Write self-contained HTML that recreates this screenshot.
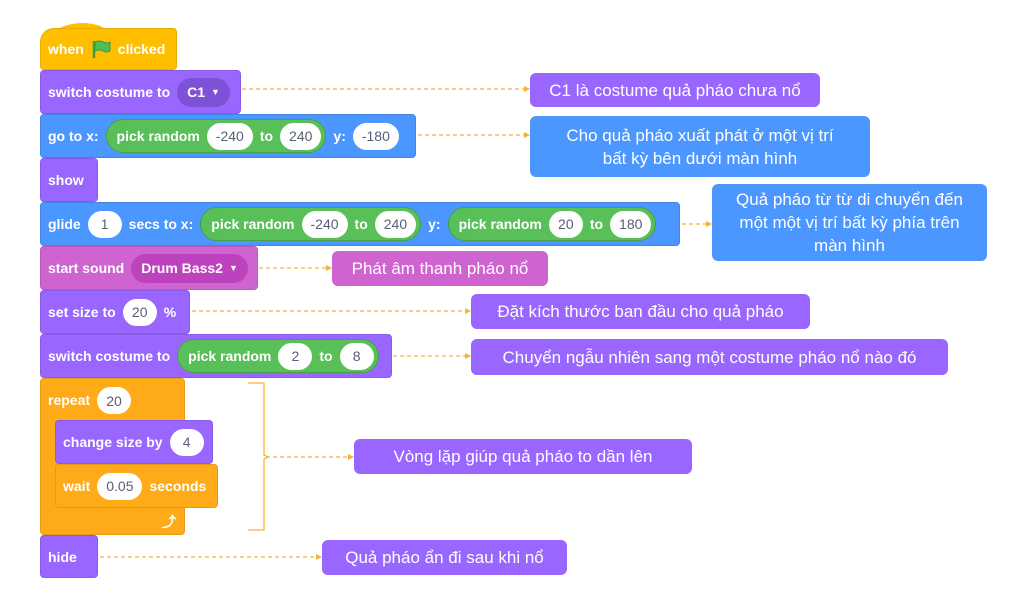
<!DOCTYPE html>
<html><head><meta charset="utf-8">
<style>
*{margin:0;padding:0;box-sizing:border-box}
body{width:1024px;height:596px;background:#fff;position:relative;overflow:hidden;font-family:"Liberation Sans",sans-serif}
.b{position:absolute;height:44px;border-radius:4px;color:#fff;font-size:14px;display:flex;align-items:center;padding-left:7px;gap:7px;white-space:nowrap;font-weight:bold}
.lk{background:#9966FF;border:1px solid #8a5ae6}
.mo{background:#4C97FF;border:1px solid #4485e0}
.so{background:#CF63CF;border:1px solid #bd58bd}
.ev{background:#FFBF00;border:1px solid #e6ac00}
.ct{background:#FFAB19;border:1px solid #e89a17}
.in{background:#fff;color:#575e75;border-radius:14px;height:27px;min-width:34px;padding:0 9px;display:inline-flex;align-items:center;justify-content:center;font-weight:normal}
.op{background:#59C059;border:1px solid #46a046;border-radius:18px;height:34px;display:inline-flex;align-items:center;gap:7px;padding:0 4px 0 10px}
.dd{border-radius:16px;height:29px;display:inline-flex;align-items:center;padding:0 10px;gap:6px}
.c{position:absolute;color:#fff;font-size:17px;border-radius:6px;display:flex;align-items:center;justify-content:center;text-align:center;line-height:23px;font-family:"Liberation Sans","Noto Sans CJK SC",sans-serif}
.p{background:#9966FF}.bl{background:#4C97FF}.pk{background:#CF63CF}
</style></head><body>
<svg width="1024" height="596" style="position:absolute;left:0;top:0" xmlns="http://www.w3.org/2000/svg">
<g stroke="#F5B23C" stroke-width="1.3" stroke-dasharray="4,3" fill="none">
<line x1="242" y1="89" x2="524" y2="89"/>
<line x1="418" y1="135" x2="524" y2="135"/>
<line x1="682" y1="224" x2="706" y2="224"/>
<line x1="259" y1="268" x2="326" y2="268"/>
<line x1="192" y1="311" x2="465" y2="311"/>
<line x1="393" y1="356" x2="465" y2="356"/>
<line x1="266" y1="457" x2="348" y2="457"/>
<line x1="100" y1="557" x2="316" y2="557"/>
</g>
<g fill="#F5B23C">
<path d="M530 89l-6-3v6z"/><path d="M530 135l-6-3v6z"/><path d="M712 224l-6-3v6z"/><path d="M332 268l-6-3v6z"/><path d="M471 311l-6-3v6z"/><path d="M471 356l-6-3v6z"/><path d="M354 457l-6-3v6z"/><path d="M322 557l-6-3v6z"/>
</g>
<path d="M248 383 H264 V455 L268 457 L264 459 V530 H248" stroke="#F5B23C" stroke-width="1.3" fill="none"/>
<path d="M40 40 Q70 16 100 26 L112 32 L40 40z" fill="#FFBF00"/>
</svg>

<div class="b ev" style="left:40px;top:28px;width:137px;height:42px;border-radius:14px 4px 4px 4px">when <svg width="20" height="18" viewBox="0 0 20 18"><path d="M3 1v17" stroke="#45993d" stroke-width="2.5"/><path d="M4 2q4-2 8 0t7 0v9q-4 2-7 0t-8 0z" fill="#4cbf56" stroke="#45993d" stroke-width="1"/></svg> clicked</div>
<div class="b lk" style="left:40px;top:70px;width:201px">switch costume to <span class="dd" style="background:#7e52d6">C1 <span style="font-size:9px">▼</span></span></div>
<div class="b mo" style="left:40px;top:114px;width:376px">go to x: <span class="op">pick random <span class="in">-240</span> to <span class="in">240</span></span> y: <span class="in">-180</span></div>
<div class="b lk" style="left:40px;top:158px;width:58px">show</div>
<div class="b mo" style="left:40px;top:202px;width:640px">glide <span class="in">1</span> secs to x: <span class="op">pick random <span class="in">-240</span> to <span class="in">240</span></span> y: <span class="op">pick random <span class="in">20</span> to <span class="in">180</span></span></div>
<div class="b so" style="left:40px;top:246px;width:218px">start sound <span class="dd" style="background:#bd42bd">Drum Bass2 <span style="font-size:9px">▼</span></span></div>
<div class="b lk" style="left:40px;top:290px;width:150px">set size to <span class="in">20</span> %</div>
<div class="b lk" style="left:40px;top:334px;width:352px">switch costume to <span class="op">pick random <span class="in">2</span> to <span class="in">8</span></span></div>
<div class="b ct" style="left:40px;top:378px;width:145px;height:157px;align-items:flex-start;padding-top:8px"><span style="line-height:27px">repeat</span> <span class="in">20</span></div>
<div class="b lk" style="left:55px;top:420px;width:158px">change size by <span class="in">4</span></div>
<div class="b ct" style="left:55px;top:464px;width:163px">wait <span class="in">0.05</span> seconds</div>
<div style="position:absolute;left:162px;top:512px;color:#fff;font-size:14px;font-weight:bold">⤴</div>
<div class="b lk" style="left:40px;top:535px;width:58px;height:43px">hide</div>

<div class="c p" style="left:530px;top:73px;width:290px;height:34px">C1 là costume quả pháo chưa nổ</div>
<div class="c bl" style="left:530px;top:116px;width:340px;height:61px">Cho quả pháo xuất phát ở một vị trí<br>bất kỳ bên dưới màn hình</div>
<div class="c bl" style="left:712px;top:184px;width:275px;height:77px">Quả pháo từ từ di chuyển đến<br>một một vị trí bất kỳ phía trên<br>màn hình</div>
<div class="c pk" style="left:332px;top:251px;width:216px;height:35px">Phát âm thanh pháo nổ</div>
<div class="c p" style="left:471px;top:294px;width:339px;height:35px">Đặt kích thước ban đầu cho quả pháo</div>
<div class="c p" style="left:471px;top:339px;width:477px;height:36px">Chuyển ngẫu nhiên sang một costume pháo nổ nào đó</div>
<div class="c p" style="left:354px;top:439px;width:338px;height:35px">Vòng lặp giúp quả pháo to dần lên</div>
<div class="c p" style="left:322px;top:540px;width:245px;height:35px">Quả pháo ẩn đi sau khi nổ</div>
</body></html>
